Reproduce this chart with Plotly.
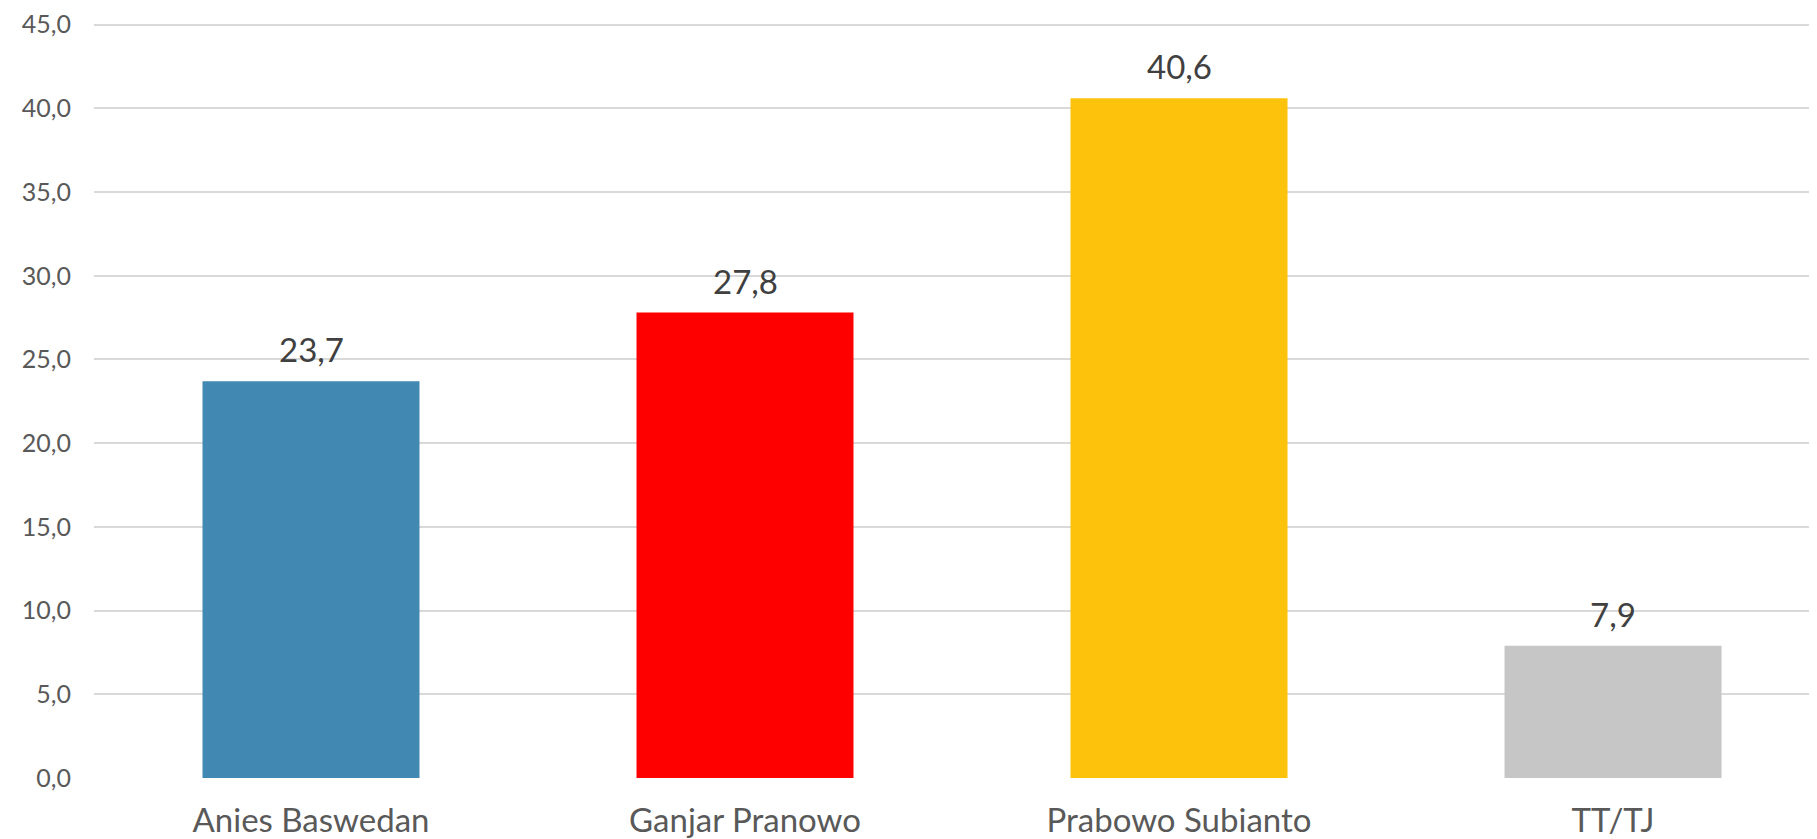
import plotly.graph_objects as go

categories = ["Anies Baswedan", "Ganjar Pranowo", "Prabowo Subianto", "TT/TJ"]
values = [23.7, 27.8, 40.6, 7.9]
colors = ["#4189B3", "#FF0000", "#FDC20B", "#C6C6C6"]
tick_vals = [0, 5, 10, 15, 20, 25, 30, 35, 40, 45]

FONT = "Lato"

fig = go.Figure()
fig.add_trace(go.Bar(
    x=categories, y=values, marker=dict(color=colors, line=dict(width=0)),
    width=0.5, hoverinfo="skip",
))

for c, v in zip(categories, values):
    fig.add_annotation(
        x=c, y=v, xref="x", yref="y",
        text=f"{v:.1f}".replace(".", ","),
        showarrow=False, yanchor="bottom", yshift=10,
        font=dict(family=FONT, size=33, color="#404040"),
    )

fig.update_layout(
    width=1809, height=831,
    margin=dict(l=86, r=0, t=11, b=59),
    paper_bgcolor="white", plot_bgcolor="white",
    separators=",.",
    showlegend=False,
    xaxis=dict(
        range=[-0.5, 3.47], showgrid=False, showline=False, zeroline=False,
        ticks="", ticklabelstandoff=20,
        tickfont=dict(family=FONT, size=33, color="#595959"),
    ),
    yaxis=dict(
        range=[0, 45.1], tickvals=tick_vals, tickformat=".1f",
        showgrid=True, gridcolor="#D9D9D9", gridwidth=1.5,
        zeroline=False, showline=False, ticks="", ticklabelstandoff=22,
        ticklabeloverflow="allow",
        tickfont=dict(family=FONT, size=25, color="#595959"),
    ),
)

fig.write_html("out.html")
